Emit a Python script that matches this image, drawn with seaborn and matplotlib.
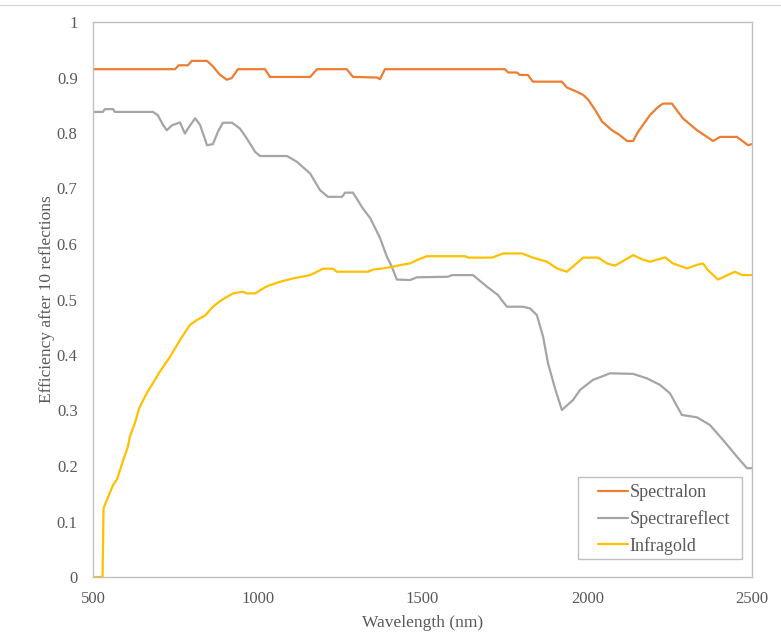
import matplotlib
matplotlib.use("Agg")
import matplotlib.pyplot as plt
from matplotlib.lines import Line2D
from matplotlib.patches import Rectangle
import seaborn as sns
import pandas as pd

series_names = ["Spectralon", "Spectrareflect", "Infragold"]
series_colors = ["#ED7D31", "#A5A5A5", "#FFC000"]

spectralon_nm = [500, 749, 760, 788, 800, 846, 864, 885, 906, 921, 940, 1022, 1037, 1159, 1180,
                 1270, 1289, 1362, 1371, 1386, 1750, 1760, 1787, 1795, 1820, 1835, 1923, 1938, 1968,
                 1988, 2003, 2024, 2045, 2075, 2099, 2121, 2139, 2154, 2190, 2215, 2230, 2257, 2290,
                 2333, 2382, 2403, 2454, 2488, 2500]
spectralon_eff = [0.915, 0.915, 0.922, 0.922, 0.93, 0.93, 0.92, 0.905, 0.896, 0.899, 0.915, 0.915,
                  0.901, 0.901, 0.915, 0.915, 0.901, 0.9, 0.897, 0.915, 0.915, 0.909, 0.909, 0.9045,
                  0.9045, 0.8925, 0.8925, 0.882, 0.8745, 0.8685, 0.86, 0.8415, 0.8205, 0.805, 0.796,
                  0.7855, 0.7855, 0.802, 0.832, 0.847, 0.853, 0.853, 0.8265, 0.805, 0.7855, 0.793,
                  0.793, 0.778, 0.78]

spectrareflect_nm = [500, 530, 536, 561, 566, 682, 697, 712, 724, 740, 764, 779, 788, 810, 825, 846,
                     864, 879, 894, 922, 946, 967, 992, 1007, 1089, 1119, 1159, 1189, 1213, 1256,
                     1265, 1289, 1319, 1341, 1371, 1392, 1407, 1422, 1462, 1483, 1577, 1590, 1653,
                     1696, 1729, 1756, 1805, 1826, 1847, 1866, 1881, 1902, 1923, 1957, 1978, 2017,
                     2069, 2139, 2181, 2221, 2251, 2287, 2333, 2372, 2412, 2454, 2485, 2500]
spectrareflect_eff = [0.838, 0.838, 0.843, 0.843, 0.838, 0.838, 0.832, 0.815, 0.805, 0.814, 0.819,
                      0.799, 0.808, 0.8265, 0.8145, 0.778, 0.780, 0.802, 0.8185, 0.8185, 0.808,
                      0.790, 0.766, 0.7585, 0.7585, 0.748, 0.727, 0.697, 0.685, 0.685, 0.6925,
                      0.6925, 0.664, 0.647, 0.611, 0.577, 0.559, 0.536, 0.535, 0.540, 0.541, 0.544,
                      0.544, 0.523, 0.508, 0.487, 0.487, 0.484, 0.472, 0.433, 0.385, 0.340, 0.301,
                      0.319, 0.337, 0.355, 0.367, 0.366, 0.358, 0.346, 0.331, 0.292, 0.2877, 0.274,
                      0.247, 0.217, 0.196, 0.196]

infragold_nm = [500, 529, 532, 561, 573, 592, 606, 612, 627, 640, 663, 703, 734, 764, 794, 815, 840,
                864, 890, 925, 955, 967, 992, 1028, 1068, 1107, 1159, 1180, 1198, 1228, 1240, 1335,
                1350, 1380, 1410, 1432, 1462, 1483, 1513, 1629, 1640, 1711, 1745, 1802, 1835, 1878,
                1908, 1938, 1988, 2033, 2060, 2084, 2105, 2139, 2166, 2190, 2236, 2260, 2303, 2333,
                2351, 2366, 2397, 2448, 2470, 2500]
infragold_eff = [0.0, 0.0, 0.124, 0.166, 0.176, 0.211, 0.235, 0.253, 0.277, 0.304, 0.331, 0.370,
                 0.397, 0.427, 0.454, 0.463, 0.471, 0.487, 0.499, 0.511, 0.514, 0.511, 0.511, 0.524,
                 0.532, 0.538, 0.544, 0.550, 0.5555, 0.5555, 0.550, 0.550, 0.554, 0.556, 0.559,
                 0.562, 0.565, 0.571, 0.578, 0.578, 0.5755, 0.5755, 0.583, 0.583, 0.5755, 0.568,
                 0.556, 0.550, 0.5755, 0.5755, 0.565, 0.561, 0.568, 0.580, 0.5725, 0.568, 0.576,
                 0.565, 0.556, 0.5625, 0.565, 0.553, 0.536, 0.550, 0.544, 0.544]

x_ticks = [500, 1000, 1500, 2000, 2500]
y_ticks = [0, 0.1, 0.2, 0.3, 0.4, 0.5, 0.6, 0.7, 0.8, 0.9, 1.0]
y_tick_labels = ["0", "0.1", "0.2", "0.3", "0.4", "0.5", "0.6", "0.7", "0.8", "0.9", "1"]

frames = []
for name, xs, ys in [("Spectralon", spectralon_nm, spectralon_eff),
                     ("Spectrareflect", spectrareflect_nm, spectrareflect_eff),
                     ("Infragold", infragold_nm, infragold_eff)]:
    frames.append(pd.DataFrame({"Wavelength": xs, "Efficiency": ys, "Material": name}))
df = pd.concat(frames, ignore_index=True)

sns.set_theme(style="white")
plt.rcParams["font.family"] = ["Liberation Serif", "DejaVu Serif"]

W, H = 781, 641
TXT = "#595959"
fig = plt.figure(figsize=(W / 100, H / 100), dpi=100)
ax = fig.add_axes([93 / W, 1 - 577 / H, (752 - 93) / W, (577 - 22) / H])

sns.lineplot(data=df, x="Wavelength", y="Efficiency", hue="Material",
             hue_order=series_names, palette=dict(zip(series_names, series_colors)),
             linewidth=1.6, ax=ax, legend=False, estimator=None, sort=False)

ax.set_xlim(500, 2500)
ax.set_ylim(0, 1)
ax.set_xticks(x_ticks)
ax.set_xticklabels([str(t) for t in x_ticks])
ax.set_yticks(y_ticks)
ax.set_yticklabels(y_tick_labels)
ax.tick_params(axis="both", length=0, labelsize=12, labelcolor=TXT)
ax.tick_params(axis="y", pad=11)
ax.tick_params(axis="x", pad=10)
for s in ax.spines.values():
    s.set_visible(True)
    s.set_color("#c0c0c0")
    s.set_linewidth(1.0)
ax.grid(False)

ax.set_xlabel("Wavelength (nm)", fontsize=12.5, color=TXT, labelpad=6)
ax.set_ylabel("Efficiency after 10 reflections", fontsize=12.5, color=TXT, labelpad=1)

# legend frame (box) and frameless legend content
ax.add_patch(Rectangle((578 / W, 1 - 559 / H), 164 / W, 82 / H, transform=fig.transFigure,
                       facecolor="white", edgecolor="#c0c0c0", lw=1.0, zorder=4, clip_on=False))
handles = [Line2D([0], [0], color=c, lw=1.6) for c in series_colors]
leg = ax.legend(handles, series_names, loc="upper left",
                bbox_to_anchor=(598 / W, 1 - 484 / H), bbox_transform=fig.transFigure,
                fontsize=13, frameon=False, handlelength=1.66, handletextpad=0.1,
                labelspacing=0.5, borderpad=0, borderaxespad=0)
leg.set_zorder(5)
for t in leg.get_texts():
    t.set_color(TXT)

fig.add_artist(Line2D([0, 1], [1 - 5 / H, 1 - 5 / H], transform=fig.transFigure,
                      color="#d9d9d9", lw=1.0))

fig.savefig("out.png", dpi=100)
